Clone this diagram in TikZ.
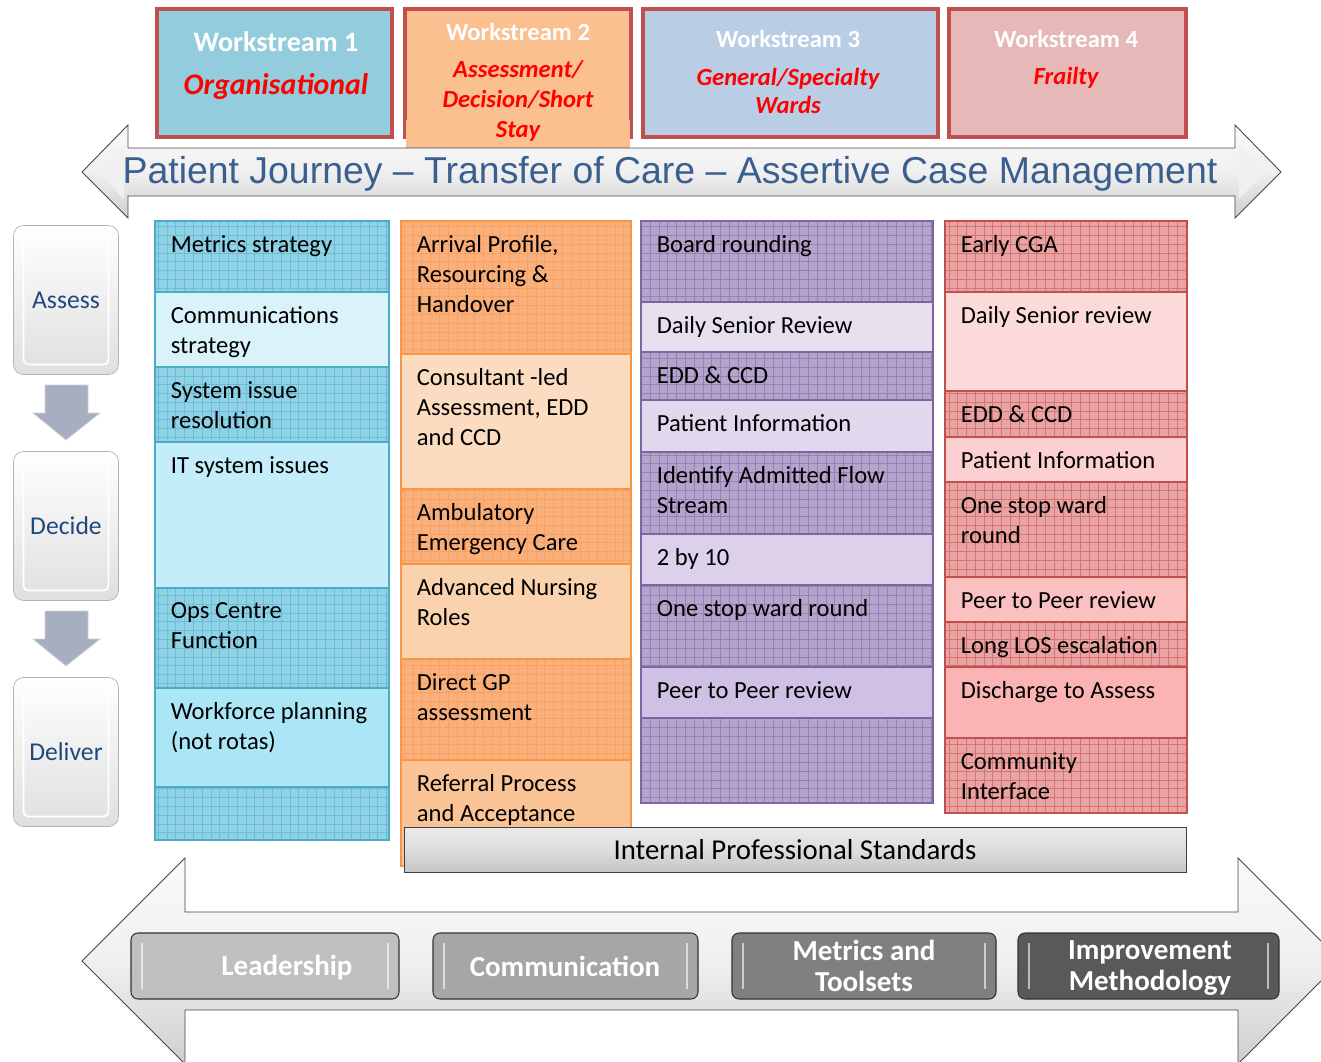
\documentclass[tikz,border=0pt]{standalone}
\usepackage{fontspec}
\setmainfont{Carlito}
\newfontfamily\arialfont{Liberation Sans}
\usetikzlibrary{calc,patterns.meta}

\definecolor{wsred}{HTML}{C0504D}
\definecolor{wsonefill}{HTML}{93CDDD}
\definecolor{wstwofill}{HTML}{FAC090}
\definecolor{wsthreefill}{HTML}{B9CDE5}
\definecolor{wsfourfill}{HTML}{E6B9B8}
\definecolor{titleblue}{HTML}{3A5F8F}
\definecolor{stagetext}{HTML}{1F497D}
\definecolor{stagearrow}{HTML}{A7AEC0}
% column colours: line, patterned row, plain rows
\definecolor{cAline}{HTML}{4BACC6}
\definecolor{cAdark}{HTML}{90D2E5}
\definecolor{cAlighta}{HTML}{DAF3FB}
\definecolor{cAlightb}{HTML}{C3EDF9}
\definecolor{cAlightc}{HTML}{ABE6F6}
\definecolor{cBline}{HTML}{F79646}
\definecolor{cBdark}{HTML}{F9B07C}
\definecolor{cBlighta}{HTML}{FCDCC0}
\definecolor{cBlightb}{HTML}{FBD2AE}
\definecolor{cBlightc}{HTML}{FAC496}
\definecolor{cCline}{HTML}{8064A2}
\definecolor{cCdark}{HTML}{B4A3CA}
\definecolor{cClighta}{HTML}{E6E0EE}
\definecolor{cClightb}{HTML}{E0D8EC}
\definecolor{cClightc}{HTML}{DCD0EA}
\definecolor{cClightd}{HTML}{CFC1E3}
\definecolor{cDline}{HTML}{C0504D}
\definecolor{cDdark}{HTML}{E9A3A3}
\definecolor{cDlighta}{HTML}{FCDADA}
\definecolor{cDlightb}{HTML}{FCD0D0}
\definecolor{cDlightc}{HTML}{FCC0C0}
\definecolor{cDlightd}{HTML}{FBB3B3}

\tikzset{
  wsbox/.style={draw=wsred, line width=2.2pt},
  wstitle/.style={text=white, font=\bfseries\fontsize{14}{16}\selectfont},
  wssub/.style={text=red, align=center, font=\bfseries\itshape\fontsize{14}{17}\selectfont},
  item/.style={anchor=north west, inner xsep=0.31cm, inner ysep=0.2cm, align=left,
    font=\fontsize{14}{17}\selectfont, execute at begin node=\strut},
  twoline/.style={yshift=-0.09cm},
  gridcell/.style 2 args={draw=#1, line width=0.8pt, preaction={fill=#2},
    pattern={Hatch[angle=0,distance=5pt,line width=0.3pt]}, pattern color=#1!55!#2},
  plaincell/.style 2 args={draw=#1, line width=0.8pt, fill=#2},
  stage/.style={rounded corners=0.2cm, draw=gray!60, top color=white, bottom color=gray!25,
    minimum width=2.1cm, minimum height=2.98cm, text=stagetext, font=\fontsize{14.6}{17}\selectfont,
    path picture={\draw[white, line width=1pt, rounded corners=0.1cm]
      ([shift={(0.2cm,0.2cm)}]path picture bounding box.south west) rectangle
      ([shift={(-0.2cm,-0.2cm)}]path picture bounding box.north east);}},
  stagedown/.style={fill=stagearrow, draw=gray!35},
  bigarrow/.style={draw=gray!55!black, line width=0.5pt, top color=gray!4, bottom color=gray!38, middle color=gray!12},
  btn/.style={rounded corners=0.14cm, draw=gray!40!black, line width=0.6pt,
    path picture={\draw[white, opacity=0.6, line width=1.2pt]
      ([shift={(0.22cm,0.2cm)}]path picture bounding box.south west) --
      ([shift={(0.22cm,-0.2cm)}]path picture bounding box.north west)
      ([shift={(-0.22cm,0.2cm)}]path picture bounding box.south east) --
      ([shift={(-0.22cm,-0.2cm)}]path picture bounding box.north east);}},
  btntext/.style={text=white, align=center, font=\bfseries\fontsize{16.5}{17.5}\selectfont},
  ipsbar/.style={draw=gray!50!black, top color=gray!16, bottom color=gray!45, middle color=gray!27,
    minimum width=15.64cm, minimum height=0.9cm, font=\fontsize{16.4}{18}\selectfont}
}

\begin{document}
\begin{tikzpicture}[x=0.02cm,y=-0.02cm]
\useasboundingbox (0,0) rectangle (1321,1061);

% workstream headers
\draw[wsbox, fill=wsonefill] (157,9) rectangle (392,137);
\node[wstitle, font=\bfseries\fontsize{16}{18}\selectfont] (wsone) at (276,42) {Workstream 1};
\node[wssub, font=\bfseries\itshape\fontsize{17}{19}\selectfont] (wsonesub) at (276,87) {Organisational};
\draw[wsbox, fill=wstwofill] (405,9) rectangle (631,137);
\fill[wstwofill] (406,120) rectangle (630,148);
\node[wstitle] (wstwo) at (518,32) {Workstream 2};
\node[wssub, font=\bfseries\itshape\fontsize{14}{17.3}\selectfont] (wstwosub) at (518,101) {Assessment/\\Decision/Short\\Stay};
\draw[wsbox, fill=wsthreefill] (643,9) rectangle (938,137);
\node[wstitle] (wsthree) at (788,39) {Workstream 3};
\node[wssub, font=\bfseries\itshape\fontsize{14}{15.5}\selectfont] (wsthreesub) at (788,91) {General/Specialty\\Wards};
\draw[wsbox, fill=wsfourfill] (949,9) rectangle (1186,137);
\node[wstitle] (wsfour) at (1066,39) {Workstream 4};
\node[wssub] (wsfoursub) at (1066,78) {Frailty};

% patient journey arrow
\draw[bigarrow] (82,172) -- (128,125) -- (128,148) -- (1235,148) -- (1235,125) -- (1281,172)
  -- (1235,218) -- (1235,196) -- (128,196) -- (128,218) -- cycle;
\fill[gray!12] (98,172) -- (124,145) -- (124,199) -- cycle;
\fill[gray!12] (1265,172) -- (1239,145) -- (1239,199) -- cycle;
\node[text=titleblue, font=\arialfont\fontsize{21.3}{24}\selectfont] (journey) at (670,174)
  {Patient Journey \textendash{} Transfer of Care \textendash{} Assertive Case Management};

% assess, decide, deliver
\node[stage] (assess) at (66,300) {Assess};
\node[stage] (decide) at (66,526) {Decide};
\node[stage] (deliver) at (66,752) {Deliver};
\path (assess.south) -- (decide.north) coordinate[midway] (ad);
\path (decide.south) -- (deliver.north) coordinate[midway] (dd);
\draw[stagedown] (ad) ++(-21,-28) -- ++(43,0) -- ++(0,28) -- ++(12,0) -- ++(-34,27) -- ++(-33,-27) -- ++(12,0) -- cycle;
\draw[stagedown] (dd) ++(-21,-28) -- ++(43,0) -- ++(0,28) -- ++(12,0) -- ++(-34,27) -- ++(-33,-27) -- ++(12,0) -- cycle;

% workstream 1 column
\path[gridcell={cAline}{cAdark}] (155,221) rectangle (389,292);
\node[item] (metrics) at (155,221) {Metrics strategy};
\path[plaincell={cAline}{cAlighta}] (155,292) rectangle (389,367);
\node[item, twoline] (comms) at (155,292) {Communications\\strategy};
\path[gridcell={cAline}{cAdark}] (155,367) rectangle (389,442);
\node[item, twoline] (sysissue) at (155,367) {System issue\\resolution};
\path[plaincell={cAline}{cAlightb}] (155,442) rectangle (389,588);
\node[item] (itsystem) at (155,442) {IT system issues};
\path[gridcell={cAline}{cAdark}] (155,588) rectangle (389,688);
\node[item, twoline] (opscentre) at (155,588) {Ops Centre\\Function};
\path[plaincell={cAline}{cAlightc}] (155,688) rectangle (389,787);
\node[item, twoline] (workforce) at (155,688) {Workforce planning\\(not rotas)};
\path[gridcell={cAline}{cAdark}] (155,787) rectangle (389,840);

% workstream 2 column
\path[gridcell={cBline}{cBdark}] (401,221) rectangle (631,354);
\node[item, twoline] (arrival) at (401,221) {Arrival Profile,\\Resourcing \&\\Handover};
\path[plaincell={cBline}{cBlighta}] (401,354) rectangle (631,489);
\node[item, twoline] (consultant) at (401,354) {Consultant -led\\Assessment, EDD\\and CCD};
\path[gridcell={cBline}{cBdark}] (401,489) rectangle (631,564);
\node[item, twoline] (ambulatory) at (401,489) {Ambulatory\\Emergency Care};
\path[plaincell={cBline}{cBlightb}] (401,564) rectangle (631,659);
\node[item, twoline] (nursing) at (401,564) {Advanced Nursing\\Roles};
\path[gridcell={cBline}{cBdark}] (401,659) rectangle (631,760);
\node[item, twoline] (directgp) at (401,659) {Direct GP\\assessment};
\path[plaincell={cBline}{cBlightc}] (401,760) rectangle (631,866);
\node[item, twoline] (referral) at (401,760) {Referral Process\\and Acceptance};

% workstream 3 column
\path[gridcell={cCline}{cCdark}] (641,221) rectangle (933,302);
\node[item] (board) at (641,221) {Board rounding};
\path[plaincell={cCline}{cClighta}] (641,302) rectangle (933,352);
\node[item] (dsrthree) at (641,302) {Daily Senior Review};
\path[gridcell={cCline}{cCdark}] (641,352) rectangle (933,400);
\node[item] (eddthree) at (641,352) {EDD \& CCD};
\path[plaincell={cCline}{cClightb}] (641,400) rectangle (933,452);
\node[item] (infothree) at (641,400) {Patient Information};
\path[gridcell={cCline}{cCdark}] (641,452) rectangle (933,534);
\node[item, twoline] (flow) at (641,452) {Identify Admitted Flow\\Stream};
\path[plaincell={cCline}{cClightc}] (641,534) rectangle (933,585);
\node[item] (twoby) at (641,534) {2 by 10};
\path[gridcell={cCline}{cCdark}] (641,585) rectangle (933,667);
\node[item] (wardthree) at (641,585) {One stop ward round};
\path[plaincell={cCline}{cClightd}] (641,667) rectangle (933,718);
\node[item] (peerthree) at (641,667) {Peer to Peer review};
\path[gridcell={cCline}{cCdark}] (641,718) rectangle (933,803);

% workstream 4 column
\path[gridcell={cDline}{cDdark}] (945,221) rectangle (1187,292);
\node[item] (cga) at (945,221) {Early CGA};
\path[plaincell={cDline}{cDlighta}] (945,292) rectangle (1187,391);
\node[item] (dsrfour) at (945,292) {Daily Senior review};
\path[gridcell={cDline}{cDdark}] (945,391) rectangle (1187,437);
\node[item] (eddfour) at (945,391) {EDD \& CCD};
\path[plaincell={cDline}{cDlightb}] (945,437) rectangle (1187,482);
\node[item] (infofour) at (945,437) {Patient Information};
\path[gridcell={cDline}{cDdark}] (945,482) rectangle (1187,577);
\node[item, twoline] (wardfour) at (945,482) {One stop ward\\round};
\path[plaincell={cDline}{cDlightc}] (945,577) rectangle (1187,622);
\node[item] (peerfour) at (945,577) {Peer to Peer review};
\path[gridcell={cDline}{cDdark}] (945,622) rectangle (1187,667);
\node[item] (longlos) at (945,622) {Long LOS escalation};
\path[plaincell={cDline}{cDlightd}] (945,667) rectangle (1187,738);
\node[item] (discharge) at (945,667) {Discharge to Assess};
\path[gridcell={cDline}{cDdark}] (945,738) rectangle (1187,813);
\node[item, twoline] (community) at (945,738) {Community\\Interface};

% standards bar
\node[ipsbar] (ips) at (795,850) {Internal Professional Standards};

% enablers arrow
\draw[bigarrow] (82,961) -- (185,858) -- (185,912) -- (1238,912) -- (1238,858) -- (1341,961)
  -- (1238,1064) -- (1238,1010) -- (185,1010) -- (185,1064) -- cycle;
\draw[btn, fill=gray!50] (131,933) rectangle (399,999);
\node[btntext] (leadership) at (287,968) {Leadership};
\draw[btn, fill=gray!70] (433,933) rectangle (698,999);
\node[btntext] (communication) at (565,966) {Communication};
\draw[btn, fill=gray!100] (732,933) rectangle (996,999);
\node[btntext] (toolsets) at (864,966) {Metrics and\\Toolsets};
\draw[btn, fill=black!65] (1018,933) rectangle (1279,999);
\node[btntext] (methodology) at (1150,968) {Improvement\\Methodology};
\end{tikzpicture}
\end{document}
